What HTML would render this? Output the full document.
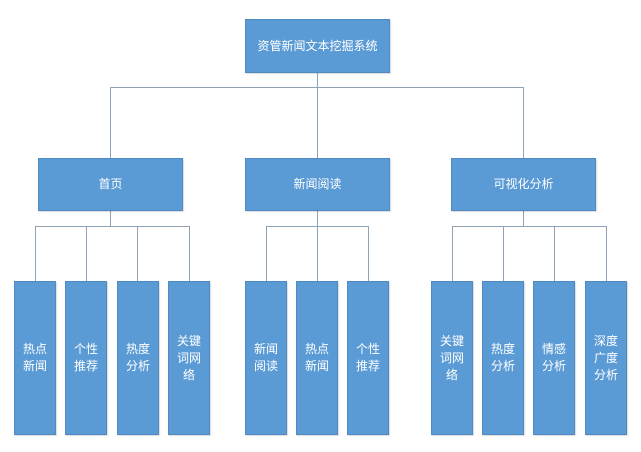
<!DOCTYPE html>
<html><head><meta charset="utf-8"><style>
html,body{margin:0;padding:0;background:#fff;width:641px;height:452px;overflow:hidden;position:relative;font-family:"Liberation Sans","Noto Sans CJK SC",sans-serif}
.b{position:absolute;background:#5b9bd5;border:1px solid #4f8ac2;box-sizing:border-box;color:#fff;font-size:12px;display:flex;align-items:center;justify-content:center;text-align:center;line-height:17px;box-shadow:1px 1px 1px rgba(0,0,0,.15)}
.l{position:absolute;background:#8fa3b6}
</style></head><body>
<div class="l" style="left:317px;top:73px;width:1px;height:86px"></div>
<div class="l" style="left:110px;top:87px;width:414px;height:1px"></div>
<div class="l" style="left:110px;top:87px;width:1px;height:71px"></div>
<div class="l" style="left:523px;top:87px;width:1px;height:71px"></div>

<div class="l" style="left:110px;top:211px;width:1px;height:15px"></div>
<div class="l" style="left:35px;top:226px;width:154px;height:1px"></div>
<div class="l" style="left:35px;top:226px;width:1px;height:55px"></div>
<div class="l" style="left:86px;top:226px;width:1px;height:55px"></div>
<div class="l" style="left:137px;top:226px;width:1px;height:55px"></div>
<div class="l" style="left:189px;top:226px;width:1px;height:55px"></div>

<div class="l" style="left:317px;top:211px;width:1px;height:70px"></div>
<div class="l" style="left:266px;top:226px;width:103px;height:1px"></div>
<div class="l" style="left:266px;top:226px;width:1px;height:55px"></div>
<div class="l" style="left:368px;top:226px;width:1px;height:55px"></div>

<div class="l" style="left:523px;top:211px;width:1px;height:15px"></div>
<div class="l" style="left:452px;top:226px;width:155px;height:1px"></div>
<div class="l" style="left:452px;top:226px;width:1px;height:55px"></div>
<div class="l" style="left:503px;top:226px;width:1px;height:55px"></div>
<div class="l" style="left:554px;top:226px;width:1px;height:55px"></div>
<div class="l" style="left:606px;top:226px;width:1px;height:55px"></div>

<div class="b" style="left:245px;top:19px;width:145px;height:54px">资管新闻文本挖掘系统</div>
<div class="b" style="left:38px;top:158px;width:145px;height:53px">首页</div>
<div class="b" style="left:245px;top:158px;width:145px;height:53px">新闻阅读</div>
<div class="b" style="left:451px;top:158px;width:145px;height:53px">可视化分析</div>

<div class="b" style="left:14px;top:281px;width:42px;height:154px">热点<br>新闻</div>
<div class="b" style="left:65px;top:281px;width:42px;height:154px">个性<br>推荐</div>
<div class="b" style="left:117px;top:281px;width:42px;height:154px">热度<br>分析</div>
<div class="b" style="left:168px;top:281px;width:42px;height:154px">关键<br>词网<br>络</div>

<div class="b" style="left:245px;top:281px;width:42px;height:154px">新闻<br>阅读</div>
<div class="b" style="left:296px;top:281px;width:42px;height:154px">热点<br>新闻</div>
<div class="b" style="left:347px;top:281px;width:42px;height:154px">个性<br>推荐</div>

<div class="b" style="left:431px;top:281px;width:42px;height:154px">关键<br>词网<br>络</div>
<div class="b" style="left:482px;top:281px;width:42px;height:154px">热度<br>分析</div>
<div class="b" style="left:533px;top:281px;width:42px;height:154px">情感<br>分析</div>
<div class="b" style="left:585px;top:281px;width:42px;height:154px">深度<br>广度<br>分析</div>
</body></html>
